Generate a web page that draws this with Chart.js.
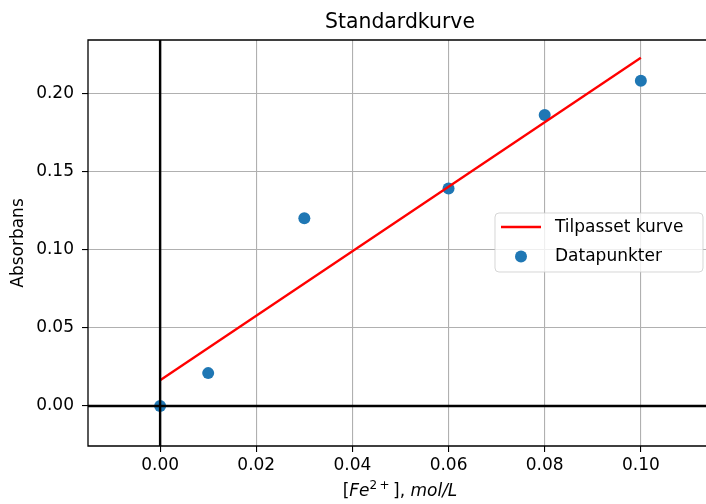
<!DOCTYPE html>
<html>
<head>
<meta charset="utf-8">
<script src="https://cdn.jsdelivr.net/npm/chart.js@4/dist/chart.umd.min.js"></script>
<style>
  html, body { margin: 0; padding: 0; background: #fff; }
  #wrap { width: 706px; height: 504px; overflow: hidden; position: relative; }
  canvas { display: block; }
</style>
</head>
<body>
<div id="wrap"><canvas id="c" width="712" height="504"></canvas></div>
<script>
// ---- data ----
const concX = [0.00, 0.01, 0.03, 0.06, 0.08, 0.10];
const absorbans = [0.000, 0.021, 0.120, 0.139, 0.186, 0.208];
const fitX = [0.00, 0.10];
const fitY = [0.0164, 0.2226];
const xTicks = [0.00, 0.02, 0.04, 0.06, 0.08, 0.10];
const yTicks = [0.00, 0.05, 0.10, 0.15, 0.20];
const titleText = 'Standardkurve';
const yLabelText = 'Absorbans';
const legendLabels = ['Tilpasset kurve', 'Datapunkter'];

const FONT = 'DejaVu Sans';

const scatterData = concX.map((x, i) => ({ x: x, y: absorbans[i] }));
const fitData = fitX.map((x, i) => ({ x: x, y: fitY[i] }));

const overlay = {
  id: 'overlay',
  afterDatasetsDraw(chart) {
    const ctx = chart.ctx;
    const a = chart.chartArea;
    const xs = chart.scales.x, ys = chart.scales.y;
    ctx.save();
    ctx.strokeStyle = '#000';
    ctx.lineWidth = 2.4;
    const x0 = xs.getPixelForValue(0);
    const y0 = ys.getPixelForValue(0);
    ctx.beginPath();
    ctx.moveTo(a.left, y0); ctx.lineTo(a.right + 10, y0);
    ctx.moveTo(x0, a.top); ctx.lineTo(x0, a.bottom);
    ctx.stroke();
    // frame: left, top, bottom (right spine lies outside the picture)
    ctx.lineWidth = 1.3;
    ctx.beginPath();
    ctx.moveTo(a.right + 10, a.top); ctx.lineTo(a.left, a.top);
    ctx.lineTo(a.left, a.bottom); ctx.lineTo(a.right + 10, a.bottom);
    ctx.stroke();
    ctx.restore();
  },
  afterDraw(chart) {
    const ctx = chart.ctx;
    const a = chart.chartArea;
    const cx = (a.left + a.right) / 2;
    ctx.save();
    ctx.fillStyle = '#000';
    ctx.font = '20.4px "' + FONT + '"';
    ctx.textAlign = 'center';
    ctx.textBaseline = 'alphabetic';
    ctx.fillText(titleText, cx, 28);
    ctx.save();
    ctx.translate(23, (a.top + a.bottom) / 2);
    ctx.rotate(-Math.PI / 2);
    ctx.font = '17px "' + FONT + '"';
    ctx.textAlign = 'center';
    ctx.fillText(yLabelText, 0, 0);
    ctx.restore();
    const parts = [
      { t: '[', f: '17px "' + FONT + '"', dy: 0 },
      { t: 'Fe', f: 'italic 17px "' + FONT + '"', dy: 0 },
      { t: '2', f: '12px "' + FONT + '"', dy: -7 },
      { t: '\u2009+', f: '12px "' + FONT + '"', dy: -7 },
      { t: '\u2009]', f: '17px "' + FONT + '"', dy: 0 },
      { t: ', ', f: '17px "' + FONT + '"', dy: 0 },
      { t: 'mol/L', f: 'italic 17px "' + FONT + '"', dy: 0 }
    ];
    let total = 0;
    parts.forEach(p => { ctx.font = p.f; p.w = ctx.measureText(p.t).width; total += p.w; });
    let px = cx - total / 2;
    ctx.textAlign = 'left';
    parts.forEach(p => { ctx.font = p.f; ctx.fillText(p.t, px, 496 + p.dy); px += p.w; });
    const lx = 495, ly = 213, lw = 208, lh = 59, r = 4;
    ctx.globalAlpha = 0.8;
    ctx.fillStyle = '#fff';
    ctx.strokeStyle = '#cccccc';
    ctx.lineWidth = 1;
    ctx.beginPath();
    ctx.moveTo(lx + r, ly);
    ctx.arcTo(lx + lw, ly, lx + lw, ly + lh, r);
    ctx.arcTo(lx + lw, ly + lh, lx, ly + lh, r);
    ctx.arcTo(lx, ly + lh, lx, ly, r);
    ctx.arcTo(lx, ly, lx + lw, ly, r);
    ctx.closePath();
    ctx.fill();
    ctx.stroke();
    ctx.globalAlpha = 1;
    const ds0 = chart.data.datasets[0], ds1 = chart.data.datasets[1];
    ctx.strokeStyle = ds0.borderColor;
    ctx.lineWidth = ds0.borderWidth;
    ctx.beginPath(); ctx.moveTo(501, 227); ctx.lineTo(541, 227); ctx.stroke();
    ctx.fillStyle = ds1.backgroundColor;
    ctx.beginPath(); ctx.arc(521, 256.5, 6, 0, Math.PI * 2); ctx.fill();
    ctx.fillStyle = '#000';
    ctx.font = '17px "' + FONT + '"';
    ctx.textBaseline = 'middle';
    ctx.fillText(legendLabels[0], 555, 228);
    ctx.fillText(legendLabels[1], 555, 257);
    ctx.restore();
  }
};

new Chart(document.getElementById('c'), {
  type: 'scatter',
  data: {
    datasets: [
      {
        type: 'line',
        label: legendLabels[0],
        data: fitData,
        borderColor: '#ff0000',
        backgroundColor: '#ff0000',
        borderWidth: 2.3,
        pointRadius: 0,
        pointHoverRadius: 0,
        fill: false,
        order: 1
      },
      {
        label: legendLabels[1],
        data: scatterData,
        backgroundColor: '#1f77b4',
        borderColor: '#1f77b4',
        pointRadius: 6,
        pointHoverRadius: 6,
        pointBorderWidth: 0,
        order: 2
      }
    ]
  },
  options: {
    responsive: false,
    animation: false,
    devicePixelRatio: 1,
    layout: { autoPadding: false, padding: { top: 40, left: 0, right: 0, bottom: 0 } },
    plugins: { legend: { display: false }, title: { display: false }, tooltip: { enabled: false } },
    scales: {
      x: {
        type: 'linear',
        min: -0.015,
        max: 0.1148,
        afterBuildTicks: s => { s.ticks = xTicks.map(v => ({ value: v })); },
        afterFit: s => { s.height = 58; },
        ticks: {
          callback: v => Number(v).toFixed(2),
          font: { family: FONT, size: 17 },
          color: '#000',
          padding: 3,
          autoSkip: false,
          maxRotation: 0
        },
        grid: { color: '#b0b0b0', lineWidth: 1.1, tickColor: '#000', tickLength: 6, tickWidth: 1.1 },
        border: { display: false }
      },
      y: {
        type: 'linear',
        min: -0.0256,
        max: 0.234,
        afterBuildTicks: s => { s.ticks = yTicks.map(v => ({ value: v })); },
        afterFit: s => { s.width = 88; },
        ticks: {
          callback: v => Number(v).toFixed(2),
          font: { family: FONT, size: 17 },
          color: '#000',
          padding: 8,
          autoSkip: false
        },
        grid: { color: '#b0b0b0', lineWidth: 1.1, tickColor: '#000', tickLength: 6, tickWidth: 1.1 },
        border: { display: false }
      }
    }
  },
  plugins: [overlay]
});
</script>
</body>
</html>
